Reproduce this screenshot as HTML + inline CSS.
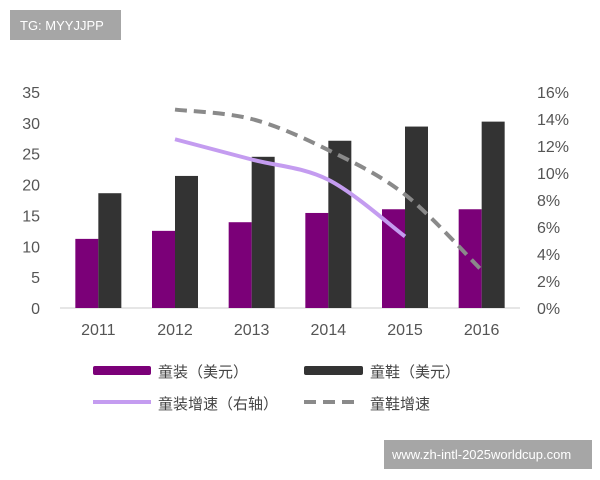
<!DOCTYPE html>
<html><head><meta charset="utf-8"><style>
body{margin:0;background:#fff;width:600px;height:480px;overflow:hidden;font-family:"Liberation Sans","Noto Sans CJK SC",sans-serif}
</style></head><body>
<svg width="600" height="480" style="position:absolute;left:0;top:0">
<rect x="10" y="10" width="111" height="30" fill="#a6a6a6"/>
<text x="20" y="30" font-size="13" fill="#fff" font-family="Liberation Sans,sans-serif">TG: MYYJJPP</text>
<g id="axes"></g><g id="bars"></g><g id="lines"></g>
<g font-size="15" fill="#444" font-family="Liberation Sans,Noto Sans CJK SC,sans-serif">
<rect x="93" y="366" width="58" height="9" rx="2" fill="#7b0078"/>
<text x="158" y="377">童装（美元）</text>
<rect x="304" y="366" width="59" height="9" rx="2" fill="#333"/>
<text x="370" y="377">童鞋（美元）</text>
<line x1="93" y1="402" x2="151" y2="402" stroke="#c49cf0" stroke-width="4"/>
<text x="158" y="409">童装增速（右轴）</text>
<line x1="304" y1="402" x2="360" y2="402" stroke="#8a8a8a" stroke-width="4" stroke-dasharray="12,7"/>
<text x="370" y="409">童鞋增速</text>
</g>
<rect x="384" y="440" width="208" height="29" fill="#a6a6a6"/>
<text x="392" y="459" font-size="13" fill="#fff">www.zh-intl-2025worldcup.com</text>
</svg>
<script>
const categories=["2011","2012","2013","2014","2015","2016"];
const clothingValues=[11.2,12.5,13.9,15.4,16,16];
const shoesValues=[18.6,21.4,24.5,27.1,29.4,30.2];
const clothingGrowth=[null,12.5,11,9.5,5.3,null];
const shoesGrowth=[null,14.7,14,11.7,8.4,2.8];
const leftTicks=[0,5,10,15,20,25,30,35];
const rightTicks=[0,2,4,6,8,10,12,14,16];
const NS="http://www.w3.org/2000/svg";
const X0=60,X1=520,Y0=308,Y1=92;
const band=(X1-X0)/categories.length;
const xc=i=>X0+band*(i+0.5);
const yL=v=>Y0-(v/35)*(Y0-Y1);
const yR=v=>Y0-(v/16)*(Y0-Y1);
function mk(tag,attrs,parent,txt){const e=document.createElementNS(NS,tag);for(const k in attrs)e.setAttribute(k,attrs[k]);if(txt!==undefined)e.textContent=txt;document.getElementById(parent).appendChild(e);return e;}
let e=mk("line",{x1:X0,x2:X1,y1:Y0,y2:Y0,stroke:"#ccc","stroke-width":1},"axes");


leftTicks.forEach(t=>{const el=mk("text",{x:40,y:yL(t)+6,"text-anchor":"end","font-size":16,fill:"#555"},"axes",String(t));

});
rightTicks.forEach(t=>{const el=mk("text",{x:537,y:yR(t)+6,"font-size":16,fill:"#555"},"axes",t+"%");

});
categories.forEach((c,i)=>{const el=mk("text",{x:xc(i),y:335,"text-anchor":"middle","font-size":16,fill:"#555"},"axes",c);


const b1=mk("rect",{x:xc(i)-23,y:yL(clothingValues[i]),width:23,height:Y0-yL(clothingValues[i]),fill:"#7b0078"},"bars");


const b2=mk("rect",{x:xc(i),y:yL(shoesValues[i]),width:23,height:Y0-yL(shoesValues[i]),fill:"#333"},"bars");

});
function smooth(arr,fy){const p=[];arr.forEach((v,i)=>{if(v!==null)p.push([xc(i),fy(v)]);});
let d="M"+p[0][0]+","+p[0][1];
for(let i=0;i<p.length-1;i++){const p0=p[i-1]||p[i],p1=p[i],p2=p[i+1],p3=p[i+2]||p2;
const c1=[p1[0]+(p2[0]-p0[0])/6,p1[1]+(p2[1]-p0[1])/6],c2=[p2[0]-(p3[0]-p1[0])/6,p2[1]-(p3[1]-p1[1])/6];
d+=" C"+c1+" "+c2+" "+p2;}return d;}
const l1=mk("path",{d:smooth(clothingGrowth,yR),fill:"none",stroke:"#c49cf0","stroke-width":4},"lines");


const l2=mk("path",{d:smooth(shoesGrowth,yR),fill:"none",stroke:"#8a8a8a","stroke-width":4,"stroke-dasharray":"12,7"},"lines");


</script>
</body></html>
